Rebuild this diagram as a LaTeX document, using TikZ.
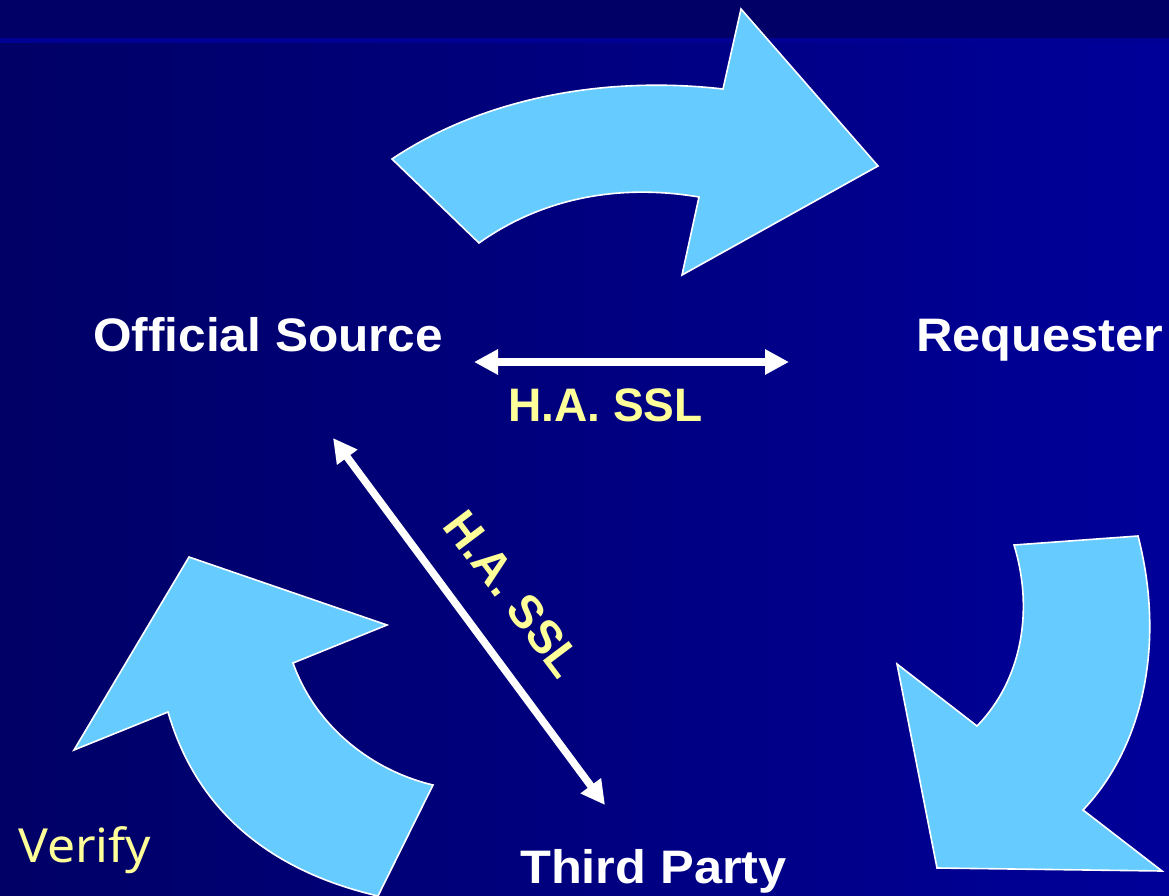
\documentclass[tikz,border=0pt]{standalone}
\usepackage{fontspec}
\setmainfont{Liberation Sans}
\newfontfamily\actorfont[FakeStretch=1.075]{Liberation Sans Bold}
\newfontfamily\actorfontB[FakeStretch=1.055]{Liberation Sans Bold}
\newfontfamily\protofont[FakeStretch=0.98]{Liberation Sans Bold}
\newfontfamily\verifyfont[FakeStretch=1.06]{Noto Sans}
\usetikzlibrary{arrows.meta}
\definecolor{navyL}{HTML}{000066}
\definecolor{navyR}{HTML}{000099}
\definecolor{rulecol}{HTML}{000092}
\definecolor{sky}{HTML}{66CCFF}
\definecolor{pale}{HTML}{FFFF99}
\tikzset{
  bigarrow/.style={fill=sky,draw=white,line width=1.6pt,line join=miter},
  bothway/.style={draw=white,line width=7.5pt,{Triangle[length=24pt,width=24pt]}-{Triangle[length=24pt,width=24pt]}},
  actor/.style={text=white,font=\actorfont\fontsize{47}{50}\selectfont,inner sep=0pt},
  actorwide/.style={text=white,font=\actorfontB\fontsize{47}{50}\selectfont,inner sep=0pt},
  proto/.style={text=pale,font=\protofont\fontsize{47}{50}\selectfont,inner sep=0pt},
  note/.style={text=pale,font=\verifyfont\fontsize{47}{50}\selectfont,inner sep=0pt}
}
\begin{document}
\begin{tikzpicture}[x=1pt,y=-1pt]
\useasboundingbox (0,0) rectangle (1169,896);
\shade[left color=navyL,right color=navyR] (0,0) rectangle (1169,896);
\fill[navyL] (0,0) rectangle (1169,38);
\fill[rulecol] (0,38) rectangle (1169,43);
% curved arrows
\draw[bigarrow] (392,159) .. controls (480,100) and (600,75) .. (723,89) -- (741,9) -- (878,166) -- (682,275) -- (699,197) .. controls (610,182) and (535,203) .. (479,243) -- cycle;
\draw[bigarrow] (1014,545) -- (1138,536) .. controls (1165,640) and (1145,745) .. (1083,810) -- (1162,871) -- (937,868) -- (897,664) -- (977,726) .. controls (1022,680) and (1034,610) .. (1014,545) -- cycle;
\draw[bigarrow] (189,557) -- (387,625) -- (293,663) .. controls (315,725) and (370,770) .. (433,785) -- (378,896) .. controls (275,872) and (198,815) .. (168,712) -- (74,750) -- cycle;
% labels
\node[actorwide,anchor=base west] (src) at (93,351) {Official Source};
\node[actor,anchor=base west] (req) at (916,351) {Requester};
\node[actor,anchor=base west] (tp) at (520,883) {Third Party};
\node[proto,anchor=base west] (ha1) at (508,421) {H.A. SSL};
\node[proto,anchor=center,rotate=-53] (ha2) at (513,594) {H.A. SSL};
\node[note,anchor=base west] (vf) at (18,862) {Verify};
% connectors
\coordinate (h1) at (474,362);
\coordinate (h2) at (789,362);
\coordinate (d1) at (333,438);
\coordinate (d2) at (605,805);
\draw[bothway] (h1) -- (h2);
\draw[bothway] (d1) -- (d2);
\end{tikzpicture}
\end{document}
